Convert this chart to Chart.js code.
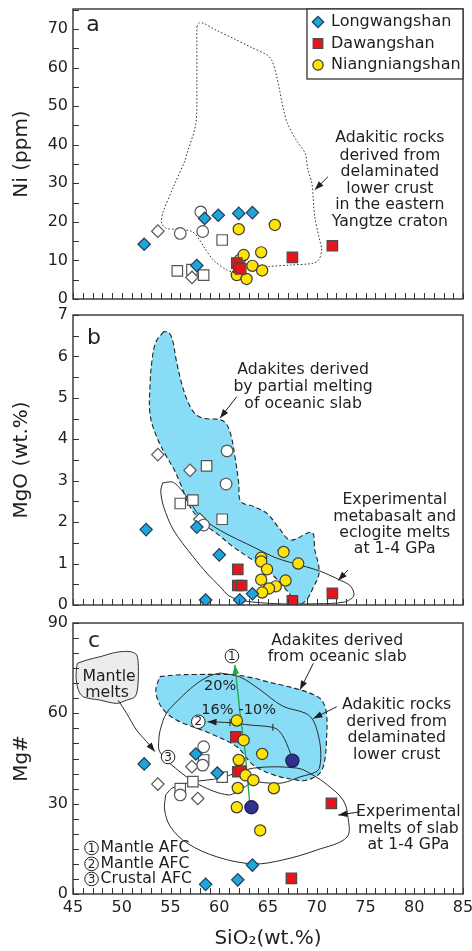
<!DOCTYPE html>
<html lang="en">
<head>
<meta charset="utf-8">
<title>SiO2 variation diagrams: Ni, MgO, Mg#</title>
<script src="https://cdn.jsdelivr.net/npm/chart.js@4.4.1/dist/chart.umd.min.js"></script>
<style>
  html, body { margin: 0; padding: 0; background: #fff; }
  #fig { position: relative; width: 472px; height: 951px; overflow: hidden; }
  #fig canvas { position: absolute; left: 0; }
</style>
</head>
<body>
<div id="fig">
  <canvas id="panelNi" width="472" height="310" style="top:0px"></canvas>
  <canvas id="panelMgO" width="472" height="315" style="top:300px"></canvas>
  <canvas id="panelMgNum" width="472" height="341" style="top:610px"></canvas>
</div>
<script>
const FONT = '"DejaVu Sans", "Noto Sans CJK SC", sans-serif';
const INK = '#1f1f1f';

// ---- axes -------------------------------------------------------------
const SIO2_MIN = 45, SIO2_MAX = 85;
const SIO2_TICKS = [45, 50, 55, 60, 65, 70, 75, 80, 85];
const NI_MAX = 75.2;
const NI_TICKS = [0, 10, 20, 30, 40, 50, 60, 70];
const MGO_MAX = 7;
const MGO_TICKS = [0, 1, 2, 3, 4, 5, 6, 7];
const MGNUM_MAX = 90;
const MGNUM_TICKS = [0, 30, 60, 90];

// ---- Longwangshan [SiO2, value] ---------------------------------------
const lwsNi    = [[52.3, 14.2], [57.7, 8.7], [58.5, 20.9], [59.9, 21.7], [62.0, 22.2], [63.4, 22.4]];
const lwsMgO   = [[52.5, 1.82], [57.7, 1.88], [58.6, 0.12], [60.0, 1.21], [62.1, 0.12], [63.4, 0.27]];
const lwsMgNum = [[52.3, 43.2], [57.6, 46.5], [58.6, 3.2], [59.8, 40.2], [61.9, 4.7], [63.4, 9.6]];

// ---- Dawangshan -------------------------------------------------------
const dwsNi    = [[61.8, 9.3], [62.0, 8.2], [62.2, 7.8], [67.5, 10.8], [71.6, 13.8]];
const dwsMgO   = [[61.9, 0.86], [61.9, 0.47], [62.3, 0.47], [67.5, 0.1], [71.6, 0.28]];
const dwsMgNum = [[61.7, 52.2], [61.9, 40.6], [62.2, 40.8], [67.4, 5.2], [71.5, 30.1]];

// ---- Niangniangshan ---------------------------------------------------
const nnsNi    = [[62.0, 18.1], [65.7, 19.2], [62.1, 10.1], [62.5, 11.4], [64.3, 12.1], [63.4, 8.6],
                  [64.4, 7.4], [61.8, 6.2], [62.8, 5.2]];
const nnsMgO   = [[66.6, 1.28], [68.1, 1.0], [64.3, 1.14], [64.3, 1.05], [64.9, 0.86], [64.3, 0.61],
                  [66.8, 0.59], [65.8, 0.45], [65.1, 0.4], [64.4, 0.3]];
const nnsMgNum = [[61.8, 57.6], [62.5, 51.1], [62.0, 44.5], [64.4, 46.5], [62.7, 39.4], [63.5, 37.8],
                  [61.9, 35.2], [65.6, 35.1], [61.8, 28.8], [64.2, 21.1]];

// ---- AFC starting compositions (Mg# diagram) --------------------------
const afcStartMgNum = [[67.5, 44.3], [63.3, 28.8]];

// ---- comparison adakites (open symbols) -------------------------------
const cmpDiamondNi    = [[53.7, 17.6], [57.2, 5.6]];
const cmpSquareNi     = [[55.7, 7.3], [57.2, 7.6], [58.4, 6.2], [60.3, 15.3]];
const cmpCircleNi     = [[58.1, 22.6], [56.0, 17.0], [58.3, 17.5]];
const cmpDiamondMgO   = [[53.7, 3.63], [57.0, 3.25], [58.0, 2.07]];
const cmpSquareMgO    = [[58.7, 3.36], [56.0, 2.45], [57.3, 2.53], [60.3, 2.07]];
const cmpCircleMgO    = [[60.8, 3.72], [60.7, 2.92], [58.4, 1.93]];
const cmpDiamondMgNum = [[53.7, 36.5], [57.2, 42.3], [57.8, 31.7]];
const cmpSquareMgNum  = [[58.4, 44.5], [57.3, 37.3], [56.0, 35.0], [60.3, 38.8]];
const cmpCircleMgNum  = [[58.4, 48.9], [58.3, 42.8], [56.0, 32.9]];

// ---- reference fields -------------------------------------------------
// delaminated lower crust adakites, eastern Yangtze craton (Ni)
const delamCrustNi = [[57.7, 70.6], [57.95, 71.6], [58.4, 71.5], [59.7, 69.7], [61.5, 67.5], [63.15, 65.4],
  [64.9, 63.3], [65.4, 61.8], [65.9, 57.6], [66.6, 49], [67.0, 45.5], [67.9, 41.2], [68.8, 37.8],
  [69.1, 33.4], [69.5, 30], [69.8, 21.3], [70.3, 15.3], [70.5, 12.7], [70.2, 10.1], [69.6, 9.25],
  [67.3, 8.8], [64.9, 8.4], [62.5, 7.8], [61.4, 7.1], [60.8, 7.5], [59.4, 10.1], [58.4, 13.6],
  [58.0, 15.3], [57.2, 17.5], [55.6, 18.1], [54.6, 18.3], [54.1, 19.6], [54.2, 22.2], [55.3, 29.1],
  [56.5, 36], [56.7, 37.8], [57.6, 45.5], [57.7, 55.9], [57.7, 70.6]];
// slab-melt adakites (MgO)
const slabMeltMgO = [[54.3, 6.6], [53.5, 6.35], [53.1, 5.9], [52.9, 5.3], [52.9, 4.6], [53.6, 4.05],
  [54.6, 3.58], [55.3, 3.3], [56.0, 2.94], [57.0, 2.37], [58.4, 1.97], [60.0, 1.68], [61.4, 1.41],
  [63.0, 1.15], [64.2, 0.98], [65.5, 0.72], [66.9, 0.36], [67.9, 0.08], [68.4, 0.03], [69.1, 0.17],
  [69.6, 0.4], [70.2, 0.72], [70.2, 0.95], [69.8, 1.33], [69.5, 1.75], [67.3, 1.57], [66.0, 1.9],
  [64.9, 2.21], [63.5, 2.38], [62.2, 2.5], [62.0, 2.94], [61.6, 3.6], [61.2, 4.1], [60.7, 4.38],
  [60.0, 4.48], [58.5, 4.5], [57.5, 4.62], [56.8, 4.9], [56.2, 5.3], [55.6, 5.9], [55.2, 6.4],
  [54.8, 6.58], [54.3, 6.6]];
// experimental metabasalt / eclogite melts (MgO)
const expMeltMgO = [[54.2, 2.95], [55.3, 2.96], [56.7, 2.6], [58.0, 2.15], [60.1, 1.8], [63.5, 1.4],
  [65.9, 1.13], [68.5, 0.95], [70.3, 0.82], [72.4, 0.6], [73.5, 0.45], [73.8, 0.22], [72.8, 0.07],
  [70.0, 0.03], [66.0, 0.03], [62.5, 0.1], [61.0, 0.22], [60.1, 0.44], [58.8, 0.75], [57.3, 1.17],
  [55.3, 1.81], [54.3, 2.37], [54.0, 2.75], [54.2, 2.95]];
// slab-melt adakites (Mg#)
const slabMeltMgNum = [[53.9, 72.2], [55.5, 72.7], [57.5, 72.9], [61.4, 72.8], [63.5, 71.7], [64.9, 70.5],
  [66.8, 69.1], [68.3, 67.8], [69.6, 66.3], [70.5, 64.4], [71.0, 60], [71.0, 51], [70.8, 44],
  [70.4, 40.5], [69.6, 38.5], [68.6, 37.6], [67.9, 37.9], [65.9, 39.2], [63.5, 42.8], [61.8, 48.9],
  [59.0, 53.4], [55.6, 57.8], [54.3, 61.1], [53.7, 64.4], [53.5, 68], [53.9, 72.2]];
// delaminated lower crust adakites (Mg#)
const delamCrustMgNum = [[60.1, 73.4], [62.1, 72.1], [64.2, 67.8], [66.5, 62.4], [68.8, 60.1], [69.6, 57.8],
  [70.1, 53.5], [70.4, 47.8], [70.3, 42.2], [69.9, 40.5], [68.3, 38.9], [66.5, 36.9], [64.8, 36.9],
  [63.5, 37.2], [62.1, 34.5], [60.9, 32.9], [58.0, 36.2], [55.5, 41.8], [53.9, 47.2], [53.8, 51.1],
  [54.0, 55.1], [54.6, 60.1], [55.8, 64.4], [57.5, 69.4], [59.0, 72.4], [60.1, 73.4]];
// experimental slab melts (Mg#)
const expMeltMgNum = [[54.5, 32.9], [55.2, 35.2], [57.3, 37.2], [60.1, 38.5], [63.5, 41.8], [68.0, 41.8],
  [69.6, 39.5], [71.1, 36.2], [72.7, 31.2], [73.2, 25.6], [73.1, 18.9], [70.0, 14.6], [66.5, 11.3],
  [63.5, 10.0], [59.8, 12.3], [56.7, 16.9], [55.0, 22.3], [54.4, 27.9], [54.5, 32.9]];
// mantle melts field (Mg#)
const mantleMeltsMgNum = [[45.44, 76.6], [46.41, 77.7], [47.77, 78.8], [49.48, 80.3], [50.85, 80.5],
  [51.53, 79.4], [51.7, 75.5], [51.64, 68.8], [51.36, 65.5], [50.51, 64.4], [49.48, 63.3], [47.77, 64.4],
  [46.06, 65.5], [45.54, 67.8], [45.31, 72.2], [45.38, 75.5], [45.44, 76.6]];

// ---- AFC trends (Mg#) -------------------------------------------------
const afc1Path = [[63.26, 28.8], [63.1, 31.2], [62.64, 47.8], [62.13, 60.1], [61.6, 76.1]];
const afc2Path = [[67.5, 44.3], [67.3, 46.7], [66.9, 50.0], [66.5, 52.6], [65.9, 54.8], [65.0, 55.6],
  [63.2, 56.1], [61.1, 56.9], [58.8, 57.2]];
const afc2Steps = [[65.5, 55.35], [61.1, 56.9]];
const mantleMeltPath = [[49.65, 64.3], [50.5, 60], [51.5, 54.5], [52.55, 50.6], [53.4, 47.3]];

// ---- drawing helpers --------------------------------------------------
const xy = arr => arr.map(([x, y]) => ({ x, y }));

const MARKS = {
  lws:   { pointStyle: 'rectRot', pointRadius: 6.2, backgroundColor: '#1ea6dc', borderColor: '#233a52' },
  dws:   { pointStyle: 'rect',    pointRadius: 7.4, backgroundColor: '#e7141b', borderColor: '#4a4a4a' },
  nns:   { pointStyle: 'circle',  pointRadius: 5.6, backgroundColor: '#ffe400', borderColor: '#3b3b3b' },
  start: { pointStyle: 'circle',  pointRadius: 6.6, backgroundColor: '#2e3192', borderColor: '#1c1c40' },
  openD: { pointStyle: 'rectRot', pointRadius: 6.2, backgroundColor: '#ffffff', borderColor: '#555555' },
  openS: { pointStyle: 'rect',    pointRadius: 7.4, backgroundColor: '#ffffff', borderColor: '#555555' },
  openC: { pointStyle: 'circle',  pointRadius: 5.8, backgroundColor: '#ffffff', borderColor: '#555555' }
};

function markSet(label, arr, mark, order) {
  const m = MARKS[mark];
  return Object.assign({ label, data: xy(arr), showLine: false, borderWidth: 1.2, order,
    pointHoverRadius: m.pointRadius }, m);
}
function outlineSet(label, arr, style) {
  return Object.assign({ label, data: xy(arr), showLine: true, pointRadius: 0, pointHoverRadius: 0,
    tension: 0.35, fill: false, borderWidth: 1, borderColor: '#2a2a2a', order: 15 }, style);
}

function arrowHead(ctx, x1, y1, x2, y2, color, len = 9, half = 3.3) {
  const a = Math.atan2(y2 - y1, x2 - x1), c = Math.cos(a), s = Math.sin(a);
  ctx.save();
  ctx.fillStyle = color;
  ctx.beginPath();
  ctx.moveTo(x2, y2);
  ctx.lineTo(x2 - len * c + half * s, y2 - len * s - half * c);
  ctx.lineTo(x2 - len * c - half * s, y2 - len * s + half * c);
  ctx.closePath();
  ctx.fill();
  ctx.restore();
}

// a digit inside a thin ring, as used to number the AFC trends
function ringedDigit(ctx, digit, x, y) {
  ctx.save();
  ctx.fillStyle = '#fff';
  ctx.strokeStyle = INK;
  ctx.lineWidth = 1;
  ctx.beginPath(); ctx.arc(x, y, 6.8, 0, Math.PI * 2); ctx.fill(); ctx.stroke();
  ctx.fillStyle = INK;
  ctx.font = `12px ${FONT}`;
  ctx.textAlign = 'center'; ctx.textBaseline = 'middle';
  ctx.fillText(digit, x, y + 0.5);
  ctx.restore();
}

function drawMark(ctx, m, x, y, k) {
  const r = m.pointRadius * k;
  ctx.beginPath();
  if (m.pointStyle === 'rectRot') {
    ctx.moveTo(x - r, y); ctx.lineTo(x, y - r); ctx.lineTo(x + r, y); ctx.lineTo(x, y + r); ctx.closePath();
  } else if (m.pointStyle === 'rect') {
    const h = r * Math.SQRT1_2; ctx.rect(x - h, y - h, 2 * h, 2 * h);
  } else {
    ctx.arc(x, y, r, 0, Math.PI * 2);
  }
  ctx.fillStyle = m.backgroundColor; ctx.fill();
  ctx.strokeStyle = m.borderColor; ctx.lineWidth = 1.2; ctx.stroke();
}

// frame around each panel with inward tick marks
const frameTicks = {
  id: 'frameTicks',
  afterDraw(chart, _args, o) {
    const { ctx, chartArea: a } = chart, X = chart.scales.x, Y = chart.scales.y;
    ctx.save();
    ctx.strokeStyle = '#333'; ctx.lineWidth = 1;
    ctx.beginPath();
    for (let v = SIO2_MIN; v <= SIO2_MAX + 1e-9; v += 1) {
      const p = Math.round(X.getPixelForValue(v)) + 0.5;
      ctx.moveTo(p, a.bottom); ctx.lineTo(p, a.bottom - 6);
    }
    for (let v = 0; v <= Y.max + 1e-9; v += o.yStep) {
      const p = Math.round(Y.getPixelForValue(v)) + 0.5;
      ctx.moveTo(a.left, p); ctx.lineTo(a.left + 6, p);
    }
    ctx.stroke();
    ctx.lineWidth = 1.4;
    ctx.strokeRect(a.left, a.top, a.right - a.left, a.bottom - a.top);
    ctx.restore();
  }
};

// labels, pointer arrows and arrowheads placed in data units
const notes = {
  id: 'notes',
  afterDatasetsDraw(chart, _args, o) {
    const { ctx } = chart, X = chart.scales.x, Y = chart.scales.y;
    const px = p => [X.getPixelForValue(p[0]), Y.getPixelForValue(p[1])];
    ctx.save();
    ctx.lineWidth = 1;
    for (const p of o.pointers || []) {
      const [x1, y1] = px(p.from), [x2, y2] = px(p.to);
      ctx.strokeStyle = INK;
      ctx.beginPath(); ctx.moveTo(x1, y1); ctx.lineTo(x2, y2); ctx.stroke();
      arrowHead(ctx, x1, y1, x2, y2, INK);
    }
    for (const h of o.heads || []) {
      const n = h.path.length;
      const [x1, y1] = px(h.path[n - 2]), [x2, y2] = px(h.path[n - 1]);
      arrowHead(ctx, x1, y1, x2, y2, h.color || INK);
    }
    for (const t of o.steps || []) {
      const [x, y] = px(t);
      ctx.strokeStyle = INK;
      ctx.beginPath(); ctx.moveTo(x, y - 3.5); ctx.lineTo(x, y + 3.5); ctx.stroke();
    }
    ctx.textBaseline = 'middle';
    for (const t of o.labels || []) {
      const [x, y] = px(t.at);
      ctx.fillStyle = INK;
      ctx.font = `${t.size || 15.7}px ${FONT}`;
      ctx.textAlign = t.align || 'center';
      ctx.fillText(t.text, x, y);
    }
    for (const r of o.rings || []) {
      const [x, y] = px(r.at);
      ringedDigit(ctx, r.digit, x, y);
      if (r.text) {
        ctx.fillStyle = INK;
        ctx.font = `15.7px ${FONT}`;
        ctx.textAlign = 'left'; ctx.textBaseline = 'middle';
        ctx.fillText(r.text, x + 9, y);
      }
    }
    ctx.restore();
  }
};

// boxed key in the upper right corner of panel a
const LEGEND = [
  { text: 'Longwangshan', mark: 'lws' },
  { text: 'Dawangshan', mark: 'dws' },
  { text: 'Niangniangshan', mark: 'nns' }
];
const legendBox = {
  id: 'legendBox',
  afterDraw(chart, _args, o) {
    if (!o.show) return;
    const { ctx, chartArea: a } = chart;
    const w = 156, h = 70, left = a.right - w, top = a.top;
    ctx.save();
    ctx.fillStyle = '#fff'; ctx.fillRect(left, top, w, h);
    ctx.strokeStyle = '#333'; ctx.lineWidth = 1.3; ctx.strokeRect(left, top, w, h);
    ctx.font = `16px ${FONT}`; ctx.textAlign = 'left'; ctx.textBaseline = 'middle';
    LEGEND.forEach((it, i) => {
      const y = top + 13 + i * 21.5;
      drawMark(ctx, MARKS[it.mark], left + 11, y, 0.92);
      ctx.fillStyle = INK;
      ctx.fillText(it.text, left + 24, y);
    });
    ctx.restore();
  }
};

function xScale(showLabels) {
  const s = { type: 'linear', position: 'bottom', min: SIO2_MIN, max: SIO2_MAX, display: showLabels,
    grid: { display: false, drawTicks: false }, border: { display: false } };
  if (showLabels) Object.assign(s, {
    afterBuildTicks: sc => { sc.ticks = SIO2_TICKS.map(value => ({ value })); },
    afterFit: sc => { sc.height = 57; sc.paddingLeft = 0; sc.paddingRight = 0; },
    ticks: { autoSkip: false, maxRotation: 0, padding: 4, color: INK, font: { family: FONT, size: 16 } },
    title: { display: true, text: 'SiO₂(wt.%)', color: INK, font: { family: FONT, size: 20 },
      padding: { top: 0, bottom: 0 } }
  });
  return s;
}
function yScale(max, ticks, title) {
  return { type: 'linear', position: 'left', min: 0, max,
    afterBuildTicks: sc => { sc.ticks = ticks.map(value => ({ value })); },
    afterFit: sc => { sc.width = 73; sc.paddingTop = 0; sc.paddingBottom = 0; },
    grid: { display: false, drawTicks: false }, border: { display: false },
    ticks: { padding: 5, color: INK, font: { family: FONT, size: 16 } },
    title: { display: true, text: title, color: INK, font: { family: FONT, size: 20 },
      padding: { top: 9.5, bottom: 0 } } };
}

function panel(id, cfg) {
  return new Chart(document.getElementById(id), {
    type: 'scatter',
    data: { datasets: cfg.datasets },
    options: {
      responsive: false, animation: false, events: [],
      layout: { padding: cfg.pad },
      plugins: {
        legend: { display: false }, tooltip: { enabled: false },
        frameTicks: { yStep: cfg.yStep }, notes: cfg.notes, legendBox: { show: !!cfg.legend }
      },
      scales: { x: xScale(!!cfg.showX), y: yScale(cfg.yMax, cfg.yTicks, cfg.yTitle) }
    },
    plugins: [frameTicks, notes, legendBox]
  });
}

const SLAB_FILL = { fill: 'shape', backgroundColor: '#88dcf5', borderColor: '#222', borderDash: [5, 3],
  borderWidth: 1.1, order: 20 };

// ---- panel a: Ni ------------------------------------------------------
panel('panelNi', {
  pad: { top: 9, bottom: 11, left: 0, right: 9 },
  yMax: NI_MAX, yTicks: NI_TICKS, yTitle: 'Ni (ppm)', yStep: 5, legend: true,
  datasets: [
    outlineSet('Delaminated lower crust', delamCrustNi, { borderDash: [1.6, 2], borderColor: '#333', tension: 0.3, order: 20 }),
    markSet('', cmpSquareNi, 'openS', 9),
    markSet('', cmpDiamondNi, 'openD', 8),
    markSet('', cmpCircleNi, 'openC', 7),
    markSet('Niangniangshan', nnsNi, 'nns', 6),
    markSet('Dawangshan', dwsNi, 'dws', 4),
    markSet('Longwangshan', lwsNi, 'lws', 2)
  ],
  notes: {
    pointers: [{ from: [71.15, 31.7], to: [69.8, 28.3] }],
    labels: [
      { text: 'a', at: [47.05, 71.0], size: 22 },
      { text: 'Adakitic rocks', at: [77.5, 41.7] },
      { text: 'derived from', at: [77.5, 37.2] },
      { text: 'delaminated', at: [77.5, 33.0] },
      { text: 'lower crust', at: [77.5, 28.6] },
      { text: 'in the eastern', at: [77.5, 24.4] },
      { text: 'Yangtze craton', at: [77.5, 20.0] }
    ]
  }
});

// ---- panel b: MgO -----------------------------------------------------
panel('panelMgO', {
  pad: { top: 15, bottom: 10, left: 0, right: 9 },
  yMax: MGO_MAX, yTicks: MGO_TICKS, yTitle: 'MgO (wt.%)', yStep: 0.5,
  datasets: [
    outlineSet('Slab melts', slabMeltMgO, SLAB_FILL),
    outlineSet('Experimental melts', expMeltMgO, { tension: 0.3 }),
    markSet('', cmpSquareMgO, 'openS', 9),
    markSet('', cmpDiamondMgO, 'openD', 8),
    markSet('', cmpCircleMgO, 'openC', 7),
    markSet('Niangniangshan', nnsMgO, 'nns', 6),
    markSet('Dawangshan', dwsMgO, 'dws', 4),
    markSet('Longwangshan', lwsMgO, 'lws', 2)
  ],
  notes: {
    pointers: [
      { from: [61.8, 5.03], to: [60.08, 4.51] },
      { from: [73.2, 0.845], to: [72.2, 0.59] }
    ],
    labels: [
      { text: 'b', at: [47.15, 6.44], size: 22 },
      { text: 'Adakites derived', at: [68.6, 5.67] },
      { text: 'by partial melting', at: [68.6, 5.26] },
      { text: 'of oceanic slab', at: [68.6, 4.85] },
      { text: 'Experimental', at: [78.0, 2.53] },
      { text: 'metabasalt and', at: [78.0, 2.13] },
      { text: 'eclogite melts', at: [78.0, 1.74] },
      { text: 'at 1-4 GPa', at: [78.0, 1.35] }
    ]
  }
});

// ---- panel c: Mg# -----------------------------------------------------
panel('panelMgNum', {
  pad: { top: 13, bottom: 0, left: 0, right: 9 },
  yMax: MGNUM_MAX, yTicks: MGNUM_TICKS, yTitle: 'Mg#', yStep: 5, showX: true,
  datasets: [
    outlineSet('Slab melts', slabMeltMgNum, SLAB_FILL),
    outlineSet('Mantle melts', mantleMeltsMgNum, { fill: 'shape', backgroundColor: '#ececec', borderColor: '#333', tension: 0.3, order: 19 }),
    outlineSet('Delaminated lower crust', delamCrustMgNum, { tension: 0.35 }),
    outlineSet('Experimental melts', expMeltMgNum, { tension: 0.35 }),
    outlineSet('Mantle melts to crustal AFC', mantleMeltPath, { tension: 0.3, order: 14 }),
    outlineSet('Mantle AFC 2', afc2Path, { tension: 0.3, order: 14 }),
    outlineSet('Mantle AFC 1', afc1Path, { tension: 0, borderColor: '#22a447', borderWidth: 1.3, order: 13 }),
    markSet('', cmpSquareMgNum, 'openS', 9),
    markSet('', cmpDiamondMgNum, 'openD', 8),
    markSet('', cmpCircleMgNum, 'openC', 7),
    markSet('Dawangshan', dwsMgNum, 'dws', 6),
    markSet('Niangniangshan', nnsMgNum, 'nns', 4),
    markSet('Longwangshan', lwsMgNum, 'lws', 2),
    markSet('AFC start', afcStartMgNum, 'start', 1)
  ],
  notes: {
    pointers: [
      { from: [69.65, 76.6], to: [68.28, 67.8] },
      { from: [72.05, 62.2], to: [69.65, 58.3] },
      { from: [74.44, 27.3], to: [72.2, 26.2] }
    ],
    heads: [
      { path: afc1Path, color: '#22a447' },
      { path: afc2Path },
      { path: mantleMeltPath }
    ],
    steps: afc2Steps,
    labels: [
      { text: 'c', at: [47.15, 84.0], size: 22 },
      { text: 'Adakites derived', at: [72.1, 84.0] },
      { text: 'from oceanic slab', at: [72.1, 78.7] },
      { text: 'Adakitic rocks', at: [78.2, 62.8] },
      { text: 'derived from', at: [78.2, 57.3] },
      { text: 'delaminated', at: [78.2, 51.8] },
      { text: 'lower crust', at: [78.2, 46.3] },
      { text: 'Experimental', at: [79.4, 27.2] },
      { text: 'melts of slab', at: [79.4, 21.7] },
      { text: 'at 1-4 GPa', at: [79.4, 16.3] },
      { text: 'Mantle', at: [48.7, 72.1] },
      { text: 'melts', at: [48.5, 66.8] },
      { text: '20%', at: [60.1, 69.1], size: 14.5 },
      { text: '16%', at: [59.8, 61.1], size: 14.5 },
      { text: '-10%', at: [63.9, 61.1], size: 14.5 }
    ],
    rings: [
      { digit: '1', at: [61.3, 79.0] },
      { digit: '2', at: [57.85, 57.2] },
      { digit: '3', at: [54.75, 45.5] },
      { digit: '1', at: [46.9, 15.3], text: 'Mantle AFC' },
      { digit: '2', at: [46.9, 10.0], text: 'Mantle AFC' },
      { digit: '3', at: [46.9, 5.0], text: 'Crustal AFC' }
    ]
  }
});
</script>
</body>
</html>
